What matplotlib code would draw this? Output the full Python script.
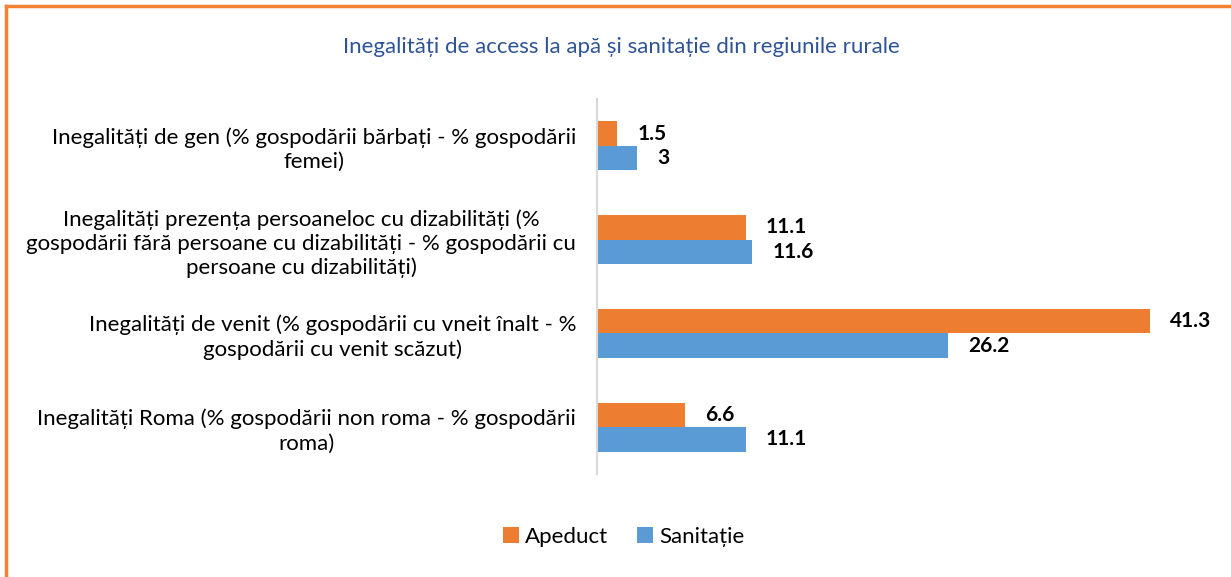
import matplotlib.pyplot as plt
import numpy as np
from matplotlib.lines import Line2D

# ── Data ──────────────────────────────────────────────────────────
categories = [
    "Inegalități de gen (% gospodării bărbați - % gospodării\nfemei)",
    "Inegalități prezența persoaneloc cu dizabilități (%\ngospodării fără persoane cu dizabilități - % gospodării cu\npersoane cu dizabilități)",
    "Inegalități de venit (% gospodării cu vneit înalt - %\ngospodării cu venit scăzut)",
    "Inegalități Roma (% gospodării non roma - % gospodării\nroma)",
]
apeduct   = [1.5, 11.1, 41.3, 6.6]
sanitatie = [3, 11.6, 26.2, 11.1]
value_labels_ap = ["1.5", "11.1", "41.3", "6.6"]
value_labels_sa = ["3", "11.6", "26.2", "11.1"]
series_names = ["Apeduct", "Sanitație"]
title = "Inegalități de access la apă și sanitație din regiunile rurale"

ORANGE = "#ED7D31"
BLUE   = "#5B9BD5"
FONT   = ["Lato", "DejaVu Sans"]
plt.rcParams["font.family"] = FONT

# ── Figure ────────────────────────────────────────────────────────
W, H = 1231, 577
fig = plt.figure(figsize=(W / 100, H / 100), dpi=100, facecolor="white")

# axes placed in pixel terms: zero line at x=597, top 99, bottom 474
x0, y_top, y_bot = 597, 99, 474
px_per_unit = 13.39
xmax = 45
ax = fig.add_axes([x0 / W, 1 - y_bot / H, xmax * px_per_unit / W, (y_bot - y_top) / H])

y = np.arange(len(categories))
bh = 0.262
ax.barh(y - bh / 2, apeduct, height=bh, color=ORANGE, label=series_names[0])
ax.barh(y + bh / 2, sanitatie, height=bh, color=BLUE, label=series_names[1])

gap = 20 / px_per_unit
for yi, v, s in zip(y, apeduct, value_labels_ap):
    ax.text(v + gap, yi - bh / 2, s, ha="left", va="center",
            fontsize=15, fontweight="bold", color="black")
for yi, v, s in zip(y, sanitatie, value_labels_sa):
    ax.text(v + gap, yi + bh / 2, s, ha="left", va="center",
            fontsize=15, fontweight="bold", color="black")

ax.set_xlim(0, xmax)
ax.set_ylim(len(categories) - 0.5, -0.5)
ax.set_yticks(y)
ax.set_yticklabels(categories, fontsize=16, multialignment="center",
                   linespacing=1.25)
ax.tick_params(axis="y", length=0, pad=15)
ax.set_xticks([])
for sp in ["top", "right", "bottom"]:
    ax.spines[sp].set_visible(False)
ax.spines["left"].set_color("#D9D9D9")
ax.spines["left"].set_linewidth(1.5)

fig.text(621 / W, 1 - 47 / H, title, ha="center", va="center",
         fontsize=16, color="#2F5496")

fig.legend(loc="center", bbox_to_anchor=(624 / W, 1 - 537 / H), ncol=2,
           frameon=False, fontsize=16, handlelength=0.7, handleheight=0.7,
           handletextpad=0.3, columnspacing=1.3)

# orange border (top and left only, the rest is cropped)
fig.add_artist(Line2D([6 / W, 1], [1 - 6 / H, 1 - 6 / H], color="#F58233",
                      lw=2.5, transform=fig.transFigure))
fig.add_artist(Line2D([6 / W, 6 / W], [0, 1 - 6 / H], color="#F58233",
                      lw=2.5, transform=fig.transFigure))

fig.savefig("out.png", dpi=100, facecolor="white")
